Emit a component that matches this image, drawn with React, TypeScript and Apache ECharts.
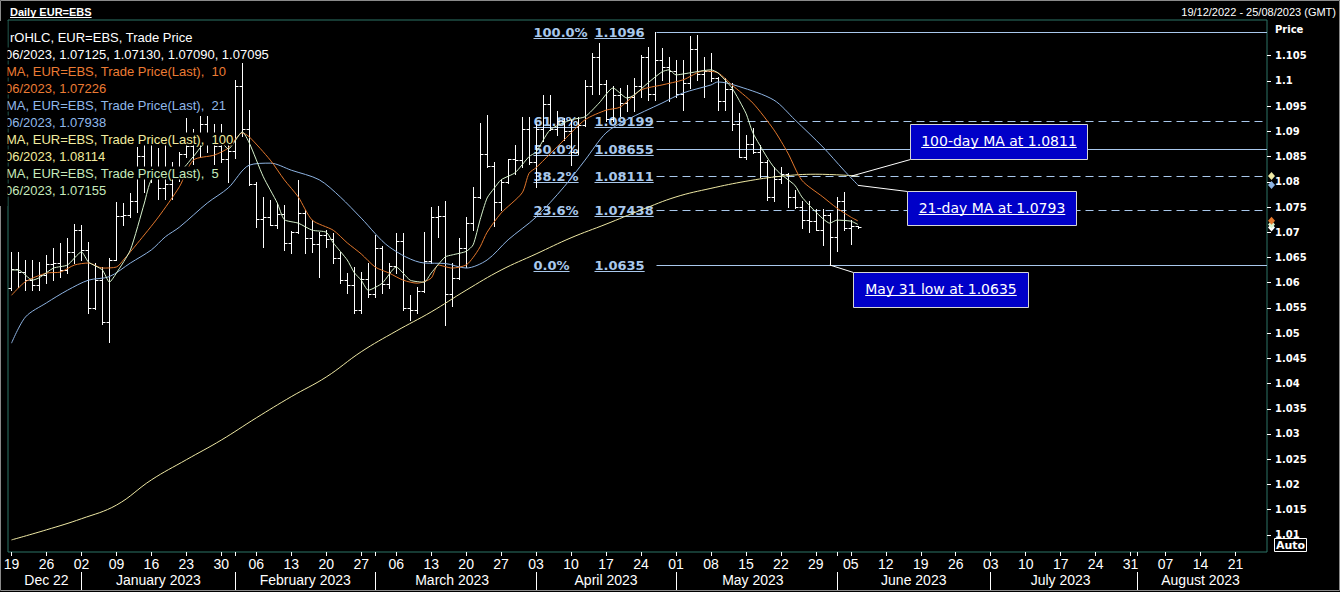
import { useEffect, useRef } from "react";
import * as echarts from "echarts";

// weekdays on the axis: 19/12/2022 .. 25/08/2023
const firstDayUtc = Date.UTC(2022, 11, 19);
const dayCount = 180;

const monthNames = ["Dec 22", "January 2023", "February 2023", "March 2023", "April 2023", "May 2023", "June 2023", "July 2023", "August 2023"];

// daily bars 19/12/2022 .. 06/06/2023
const opens = [
  1.0590, 1.0628, 1.0622, 1.0605, 1.0595, 1.0615, 1.0637, 1.0640, 1.0625, 1.0660,
  1.0705, 1.0665, 1.0550, 1.0605, 1.0522, 1.0645, 1.0733, 1.0735, 1.0762, 1.0851,
  1.0830, 1.0822, 1.0788, 1.0795, 1.0830, 1.0855, 1.0870, 1.0885, 1.0915, 1.0890,
  1.0870, 1.0845, 1.0862, 1.0990, 1.0905, 1.0795, 1.0727, 1.0731, 1.0715, 1.0737,
  1.0678, 1.0700, 1.0739, 1.0688, 1.0677, 1.0694, 1.0686, 1.0648, 1.0605, 1.0596,
  1.0545, 1.0608, 1.0578, 1.0668, 1.0597, 1.0634, 1.0682, 1.0549, 1.0545, 1.0583,
  1.0643, 1.0731, 1.0733, 1.0577, 1.0609, 1.0669, 1.0718, 1.0770, 1.0856, 1.0832,
  1.0760, 1.0800, 1.0845, 1.0843, 1.0905, 1.0840, 1.0905, 1.0955, 1.0905, 1.0920,
  1.0900, 1.0860, 1.0912, 1.0990, 1.1047, 1.0993, 1.0925, 1.0972, 1.0957, 1.0968,
  1.0990, 1.1048, 1.0975, 1.1041, 1.1027, 1.1020, 1.0975, 1.0995, 1.1063, 1.1013,
  1.1019, 1.1005, 1.0960, 1.0983, 1.0915, 1.0850, 1.0875, 1.0860, 1.0840, 1.0770,
  1.0805, 1.0815, 1.0770, 1.0750, 1.0725, 1.0722, 1.0705, 1.0735, 1.0690, 1.0762,
  1.0708, 1.07125,
];
const highs = [
  1.0660, 1.0661, 1.0645, 1.0645, 1.0641, 1.0655, 1.0668, 1.0678, 1.0688, 1.0716,
  1.0714, 1.0681, 1.0640, 1.0632, 1.0649, 1.0760, 1.0757, 1.0777, 1.0868, 1.0874,
  1.0873, 1.0867, 1.0887, 1.0840, 1.0860, 1.0927, 1.0905, 1.0930, 1.0930, 1.0914,
  1.0915, 1.0880, 1.1002, 1.1035, 1.0942, 1.0800, 1.0770, 1.0764, 1.0758, 1.0754,
  1.0702, 1.0804, 1.0744, 1.0724, 1.0700, 1.0704, 1.0698, 1.0661, 1.0620, 1.0632,
  1.0622, 1.0640, 1.0695, 1.0672, 1.0639, 1.0698, 1.0698, 1.0576, 1.0592, 1.0701,
  1.0751, 1.0752, 1.0761, 1.0639, 1.0688, 1.0731, 1.0790, 1.0916, 1.0932, 1.0839,
  1.0803, 1.0846, 1.0872, 1.0929, 1.0929, 1.0915, 1.0972, 1.0973, 1.0940, 1.0926,
  1.0923, 1.0929, 1.1002, 1.1055, 1.1075, 1.1002, 1.0989, 1.0986, 1.0992, 1.1005,
  1.1052, 1.1068, 1.1096, 1.1065, 1.1048, 1.1042, 1.1042, 1.1090, 1.1092, 1.1048,
  1.1055, 1.1008, 1.1005, 1.0996, 1.0936, 1.0893, 1.0906, 1.0873, 1.0843, 1.0830,
  1.0830, 1.0818, 1.0784, 1.0761, 1.0761, 1.0747, 1.0747, 1.0738, 1.0770, 1.0780,
  1.0724, 1.07130,
];
const lows = [
  1.0585, 1.0592, 1.0585, 1.0585, 1.0585, 1.0599, 1.0605, 1.0612, 1.0619, 1.0639,
  1.0645, 1.0539, 1.0548, 1.0519, 1.0483, 1.0645, 1.0714, 1.0731, 1.0740, 1.0780,
  1.0800, 1.0765, 1.0765, 1.0765, 1.0802, 1.0850, 1.0835, 1.0850, 1.0860, 1.0835,
  1.0840, 1.0800, 1.0848, 1.0890, 1.0794, 1.0711, 1.0671, 1.0714, 1.0708, 1.0665,
  1.0658, 1.0698, 1.0658, 1.0660, 1.0612, 1.0670, 1.0639, 1.0599, 1.0579, 1.0540,
  1.0540, 1.0572, 1.0572, 1.0579, 1.0590, 1.0620, 1.0546, 1.0526, 1.0540, 1.0582,
  1.0640, 1.0690, 1.0516, 1.0553, 1.0608, 1.0632, 1.0704, 1.0768, 1.0830, 1.0713,
  1.0744, 1.0798, 1.0816, 1.0830, 1.0836, 1.0790, 1.0880, 1.0903, 1.0893, 1.0883,
  1.0833, 1.0855, 1.0910, 1.0975, 1.0975, 1.0920, 1.0920, 1.0930, 1.0940, 1.0940,
  1.0969, 1.0963, 1.0963, 1.1002, 1.0960, 1.0969, 1.0943, 1.0985, 1.1002, 1.0969,
  1.1000, 1.0943, 1.0943, 1.0903, 1.0850, 1.0846, 1.0857, 1.0810, 1.0764, 1.0761,
  1.0797, 1.0751, 1.0748, 1.0708, 1.0701, 1.0705, 1.0675, 1.0635, 1.0662, 1.0705,
  1.0676, 1.07090,
];
const closes = [
  1.0628, 1.0622, 1.0605, 1.0595, 1.0615, 1.0637, 1.0640, 1.0625, 1.0660, 1.0705,
  1.0665, 1.0550, 1.0605, 1.0522, 1.0645, 1.0733, 1.0735, 1.0762, 1.0851, 1.0830,
  1.0822, 1.0788, 1.0795, 1.0830, 1.0855, 1.0870, 1.0885, 1.0915, 1.0890, 1.0870,
  1.0845, 1.0862, 1.0990, 1.0905, 1.0795, 1.0727, 1.0731, 1.0715, 1.0737, 1.0678,
  1.0700, 1.0739, 1.0688, 1.0677, 1.0694, 1.0686, 1.0648, 1.0605, 1.0596, 1.0545,
  1.0608, 1.0578, 1.0668, 1.0597, 1.0634, 1.0682, 1.0549, 1.0545, 1.0583, 1.0643,
  1.0731, 1.0733, 1.0577, 1.0609, 1.0669, 1.0718, 1.0770, 1.0856, 1.0832, 1.0760,
  1.0800, 1.0845, 1.0843, 1.0905, 1.0840, 1.0905, 1.0955, 1.0905, 1.0920, 1.0900,
  1.0860, 1.0912, 1.0990, 1.1047, 1.0993, 1.0925, 1.0972, 1.0957, 1.0968, 1.0990,
  1.1048, 1.0975, 1.1041, 1.1027, 1.1020, 1.0975, 1.0995, 1.1063, 1.1013, 1.1019,
  1.1005, 1.0960, 1.0983, 1.0915, 1.0850, 1.0875, 1.0860, 1.0840, 1.0770, 1.0805,
  1.0815, 1.0770, 1.0750, 1.0725, 1.0722, 1.0705, 1.0735, 1.0690, 1.0762, 1.0708,
  1.0712, 1.07095,
];

// moving averages: [day index, value]
const ma5Points = [
  [0, 1.0625], [1, 1.0625], [3, 1.0605], [4, 1.061], [6, 1.0629], [8, 1.0635], [10, 1.0661], [11, 1.0641],
  [13, 1.0625], [14, 1.0601], [15, 1.0619], [17, 1.0665], [19, 1.0758], [20, 1.0804], [22, 1.0818], [24, 1.082],
  [26, 1.085], [28, 1.088], [30, 1.0878], [31, 1.0865], [33, 1.0899], [34, 1.0877], [36, 1.081], [38, 1.0758],
  [39, 1.0725], [41, 1.0718], [43, 1.0704], [45, 1.07], [46, 1.0679], [48, 1.0645], [49, 1.062], [50, 1.0605],
  [51, 1.0585], [53, 1.0599], [55, 1.0631], [57, 1.0605], [59, 1.0601], [60, 1.0619], [62, 1.0651], [63, 1.0655],
  [65, 1.0662], [66, 1.0675], [67, 1.0725], [68, 1.0768], [69, 1.0787], [70, 1.0804], [72, 1.0818], [74, 1.085],
  [75, 1.0859], [77, 1.0903], [80, 1.0923], [82, 1.0929], [84, 1.0956], [86, 1.0986], [88, 1.0966], [89, 1.0972],
  [91, 1.0996], [93, 1.1018], [94, 1.1022], [95, 1.1012], [97, 1.1016], [100, 1.1022], [101, 1.1016], [103, 1.0986],
  [105, 1.0936], [106, 1.0897], [108, 1.0849], [109, 1.0829], [110, 1.0815], [112, 1.0793], [113, 1.077], [115, 1.074],
  [117, 1.0718], [118, 1.0724], [120, 1.0722], [121, 1.07155],
];
const ma10Points = [
  [0, 1.0575], [2, 1.0602], [5, 1.0619], [7, 1.0621], [9, 1.0635], [11, 1.0639], [13, 1.0629], [15, 1.0631],
  [16, 1.0645], [18, 1.0678], [21, 1.073], [24, 1.079], [26, 1.0843], [29, 1.0853], [31, 1.0867], [33, 1.0897],
  [34, 1.0889], [37, 1.0843], [39, 1.0804], [41, 1.077], [43, 1.0724], [46, 1.0704], [48, 1.0679], [50, 1.0657],
  [52, 1.0631], [54, 1.0619], [56, 1.0605], [58, 1.0599], [60, 1.0609], [61, 1.0635], [63, 1.0629], [65, 1.0635],
  [66, 1.065], [67, 1.0671], [68, 1.07], [70, 1.0738], [73, 1.0778], [74, 1.0817], [75, 1.0828], [79, 1.0883],
  [82, 1.0923], [85, 1.0942], [87, 1.0948], [90, 1.0982], [93, 1.0992], [96, 1.1002], [99, 1.102], [101, 1.1016],
  [103, 1.0992], [106, 1.0956], [109, 1.0903], [111, 1.0857], [113, 1.0803], [116, 1.077], [118, 1.0748], [120, 1.073],
  [121, 1.07226],
];
const ma21Points = [
  [0, 1.048], [2, 1.0532], [5, 1.056], [8, 1.0585], [11, 1.0605], [14, 1.0612], [17, 1.0639], [20, 1.0665],
  [22, 1.0691], [24, 1.071], [28, 1.0758], [31, 1.0788], [34, 1.0833], [37, 1.0837], [40, 1.0823], [44, 1.0804],
  [47, 1.077], [50, 1.0728], [54, 1.0671], [59, 1.0639], [62, 1.0638], [65, 1.0629], [68, 1.0645], [71, 1.0685],
  [75, 1.073], [79, 1.079], [82, 1.0843], [85, 1.0897], [88, 1.0923], [93, 1.0956], [96, 1.0976], [100, 1.0992],
  [101, 1.0998], [104, 1.0989], [109, 1.0962], [112, 1.0923], [116, 1.0869], [119, 1.0823], [121, 1.07938],
];
const ma100Points = [
  [0, 1.009], [5, 1.011], [10, 1.0132], [15, 1.0159], [20, 1.0209], [25, 1.0249], [30, 1.0288], [35, 1.0332],
  [40, 1.0374], [45, 1.0413], [50, 1.0463], [55, 1.0504], [60, 1.0542], [65, 1.0585], [70, 1.0625], [75, 1.0657],
  [80, 1.0689], [85, 1.0716], [90, 1.0744], [95, 1.077], [100, 1.0787], [105, 1.0801], [110, 1.0811], [115, 1.0815],
  [121, 1.08114],
];

// price axis
const priceTicks = [
  1.01, 1.015, 1.02, 1.025, 1.03, 1.035, 1.04, 1.045, 1.05, 1.055,
  1.06, 1.065, 1.07, 1.075, 1.08, 1.085, 1.09, 1.095, 1.1, 1.105,
];

// fibonacci retracement from the 26/04 high
const fibStartDay = 92;
const fibLevels = [1.1096, 1.09199, 1.08655, 1.08111, 1.07438, 1.0635];
const fibPercents = ["100.0%", "61.8%", "50.0%", "38.2%", "23.6%", "0.0%"];
const fibValueTexts = ["1.1096", "1.09199", "1.08655", "1.08111", "1.07438", "1.0635"];
const fibDashed = [false, true, false, true, true, false];

const legendLines = [
  "rOHLC, EUR=EBS, Trade Price",
  "06/2023, 1.07125, 1.07130, 1.07090, 1.07095",
  "MA, EUR=EBS, Trade Price(Last),  10",
  "06/2023, 1.07226",
  "MA, EUR=EBS, Trade Price(Last),  21",
  "06/2023, 1.07938",
  "MA, EUR=EBS, Trade Price(Last),  100",
  "06/2023, 1.08114",
  "MA, EUR=EBS, Trade Price(Last),  5",
  "06/2023, 1.07155",
];

const C_MA5 = "#d6f2cc";
const C_MA10 = "#e2772c";
const C_MA21 = "#8db3e2";
const C_MA100 = "#efe9a4";
const C_FIB = "#a9c8ec";
const C_FRAME = "#2d7466";
const legendColors = ["#ffffff", "#ffffff", "#ec7c34", "#ec7c34", "#8fb8ea", "#8fb8ea", "#f2ec9e", "#f2ec9e", "#c6eabc", "#c6eabc"];

const SANS = "'Liberation Sans', Arial, sans-serif";
const DEJAVU = "'DejaVu Sans', Verdana, sans-serif";
const NARROW = "'Liberation Sans Narrow', 'Liberation Sans', Arial, sans-serif";

function buildDays() {
  const out: string[] = [];
  const d = new Date(firstDayUtc);
  while (out.length < dayCount) {
    const wd = d.getUTCDay();
    if (wd !== 0 && wd !== 6) out.push(d.toISOString().slice(0, 10));
    d.setUTCDate(d.getUTCDate() + 1);
  }
  return out;
}

const days = buildDays();
const isMonday = days.map((d) => new Date(d + "T00:00:00Z").getUTCDay() === 1);
const monthStarts: number[] = [0];
days.forEach((d, i) => {
  if (i > 0 && d.slice(5, 7) !== days[i - 1].slice(5, 7)) monthStarts.push(i);
});
const monthLabelAt: Record<number, string> = {};
monthStarts.forEach((s, k) => {
  const e = (k + 1 < monthStarts.length ? monthStarts[k + 1] : days.length) - 1;
  monthLabelAt[Math.ceil((s + e) / 2)] = monthNames[k];
});
const isMonthBreak = (i: number) => i > 0 && monthStarts.includes(i);

let measureCtx: CanvasRenderingContext2D | null = null;
function textWidth(s: string, font: string) {
  if (!measureCtx) measureCtx = document.createElement("canvas").getContext("2d");
  measureCtx!.font = font;
  return measureCtx!.measureText(s).width;
}

function underlinedText(text: string, x: number, y: number, color: string, size: number, weight: string, family: string, z: number, align = "left") {
  const w = textWidth(text, `${weight} ${size}px ${family}`);
  const left = align === "center" ? x - w / 2 : x;
  const uy = Math.round(y + size * 0.45) + 0.5;
  return [
    { type: "text", x, y, z, style: { text, fill: color, fontSize: size, fontWeight: weight, fontFamily: family, align, verticalAlign: "middle" } },
    { type: "line", z, shape: { x1: left, y1: uy, x2: left + w, y2: uy }, style: { stroke: color, lineWidth: 1 } },
  ];
}

function buildOverlay(chart: echarts.ECharts) {
  const px = (i: number, v: number) => chart.convertToPixel({ xAxisIndex: 0, yAxisIndex: 0 }, [i, v]) as number[];
  const crisp = (v: number) => Math.round(v) + 0.5;
  const els: any[] = [];

  // title bar
  els.push(...underlinedText("Daily EUR=EBS", 10, 12, "#ffffff", 11, "bold", SANS, 20));
  els.push({ type: "text", x: 1336, y: 12, z: 20, style: { text: "19/12/2022 - 25/08/2023 (GMT)", fill: "#ffffff", fontSize: 11, fontFamily: SANS, align: "right", verticalAlign: "middle" } });
  els.push({ type: "rect", z: 30, shape: { x: 0.5, y: 0.5, width: 1339, height: 590 }, style: { fill: "none", stroke: "#8a8a8a", lineWidth: 1 } });

  // price axis title and auto-scale button
  els.push({ type: "text", x: 1275, y: 29, z: 20, style: { text: "Price", fill: "#ffffff", fontSize: 10, fontWeight: "bold", fontFamily: DEJAVU, verticalAlign: "middle" } });
  els.push({ type: "rect", z: 20, shape: { x: 1274.5, y: 538.5, width: 32, height: 13 }, style: { fill: "#000", stroke: "#ffffff", lineWidth: 1 } });
  els.push({ type: "text", x: 1290.5, y: 545, z: 21, style: { text: "Auto", fill: "#ffffff", fontSize: 11, fontWeight: "bold", fontFamily: DEJAVU, align: "center", verticalAlign: "middle" } });

  // fibonacci levels
  fibLevels.forEach((v, k) => {
    const p = px(fibStartDay, v);
    const x1 = Math.round(p[0]) + 1.5;
    const y = crisp(p[1]);
    els.push({ type: "line", z: 1, shape: { x1, y1: y, x2: 1267, y2: y }, style: { stroke: C_FIB, lineWidth: 1, lineDash: fibDashed[k] ? [8, 5] : null } });
    els.push(...underlinedText(fibPercents[k], x1 - 123, y, C_FIB, 13, "bold", DEJAVU, 1));
    els.push(...underlinedText(fibValueTexts[k], x1 - 62, y, C_FIB, 13, "bold", DEJAVU, 1));
  });

  // call-out boxes
  const boxes = [
    { text: "100-day MA at 1.0811", x: 910.5, y: 124.5, w: 177, h: 35, from: px(120, 1.0811), to: [910.5, 159.5] },
    { text: "21-day MA at 1.0793", x: 907.5, y: 191.5, w: 169, h: 34, from: px(121, 1.0793), to: [907.5, 191.5] },
    { text: "May 31 low at 1.0635", x: 853.5, y: 272.5, w: 175, h: 35, from: px(117, 1.0635), to: [853.5, 272.5] },
  ];
  boxes.forEach((b) => {
    els.push({ type: "line", z: 12, shape: { x1: b.from[0], y1: b.from[1], x2: b.to[0], y2: b.to[1] }, style: { stroke: "#ffffff", lineWidth: 1 } });
    els.push({ type: "rect", z: 12, shape: { x: b.x, y: b.y, width: b.w, height: b.h }, style: { fill: "#0000c8", stroke: "#d6d6d6", lineWidth: 1 } });
    els.push(...underlinedText(b.text, b.x + b.w / 2, b.y + b.h / 2 - 1, "#ffffff", 14, "normal", DEJAVU, 13, "center"));
  });

  // last-value diamonds on the price axis
  const lastValues = [
    { v: closes[closes.length - 1], c: "#ffffff" },
    { v: ma5Points[ma5Points.length - 1][1], c: C_MA5 },
    { v: ma10Points[ma10Points.length - 1][1], c: C_MA10 },
    { v: ma21Points[ma21Points.length - 1][1], c: C_MA21 },
    { v: ma100Points[ma100Points.length - 1][1], c: C_MA100 },
  ];
  lastValues.forEach((m) => {
    const y = px(0, m.v)[1];
    const x = 1271.5;
    els.push({ type: "polygon", z: 15, shape: { points: [[x, y - 4], [x + 3.5, y], [x, y + 4], [x - 3.5, y]] }, style: { fill: m.c } });
  });

  // study legend, clipped at the left edge of the plot
  legendLines.forEach((t, k) => {
    const x = k === 0 ? 10 : k % 2 === 1 ? 5 : 6;
    els.push({ type: "text", x, y: 37 + k * 17, z: 40, style: { text: t, fill: legendColors[k], fontSize: 13, fontFamily: SANS, verticalAlign: "middle", backgroundColor: "#000" } });
  });
  els.push({ type: "rect", z: 41, shape: { x: 0, y: 21, width: 7.5, height: 185 }, style: { fill: "#000" } });

  return els;
}

function maSeries(name: string, points: number[][], color: string, smooth: number | boolean) {
  return {
    name,
    type: "line",
    data: points,
    showSymbol: false,
    smooth,
    z: 4,
    lineStyle: { color, width: 1 },
  };
}

export default function App() {
  const chartRef = useRef<HTMLDivElement>(null);

  useEffect(() => {
    if (!chartRef.current) return;
    const chart = echarts.init(chartRef.current, undefined, { renderer: "svg" });

    const ohlc = opens.map((o, i) => [i, o, highs[i], lows[i], closes[i]]);

    chart.setOption({
      animation: false,
      backgroundColor: "#000000",
      grid: { left: 8, right: 73, top: 20, bottom: 40, show: true, borderColor: C_FRAME, borderWidth: 1, backgroundColor: "transparent" },
      xAxis: [
        {
          type: "category",
          data: days,
          boundaryGap: true,
          axisLine: { show: false },
          splitLine: { show: false },
          axisTick: {
            show: true,
            alignWithLabel: true,
            interval: (i: number) => isMonday[i] || isMonthBreak(i),
            length: 4,
            lineStyle: { color: "#ffffff" },
          },
          axisLabel: {
            interval: (i: number) => isMonday[i],
            formatter: (v: string) => v.slice(8, 10),
            color: "#ffffff",
            fontSize: 14,
            fontFamily: NARROW,
            margin: 5,
          },
        },
        {
          type: "category",
          data: days,
          position: "bottom",
          offset: 20,
          boundaryGap: true,
          axisLine: { show: false },
          splitLine: { show: false },
          axisTick: {
            show: true,
            alignWithLabel: true,
            interval: (i: number) => isMonthBreak(i),
            length: 18,
            lineStyle: { color: "#ffffff" },
          },
          axisLabel: {
            interval: (i: number) => monthLabelAt[i] !== undefined,
            formatter: (_v: string, i: number) => monthLabelAt[i] ?? "",
            color: "#ffffff",
            fontSize: 14,
            fontFamily: NARROW,
            margin: 1,
          },
        },
      ],
      yAxis: {
        type: "value",
        position: "right",
        min: 1.006604,
        max: 1.112078,
        axisLine: { show: false },
        splitLine: { show: false },
        axisTick: { show: true, customValues: priceTicks, length: 4, lineStyle: { color: "#ffffff" } },
        axisLabel: {
          customValues: priceTicks,
          formatter: (v: number) => String(Number(v.toFixed(3))),
          color: "#ffffff",
          fontSize: 10,
          fontWeight: "bold",
          fontFamily: DEJAVU,
          margin: 8,
        },
      },
      series: [
        {
          name: "OHLC",
          type: "custom",
          z: 3,
          data: ohlc,
          encode: { x: 0, y: [1, 2, 3, 4] },
          renderItem: (_params: any, api: any) => {
            const i = api.value(0);
            const h = api.coord([i, api.value(2)]);
            const l = api.coord([i, api.value(3)]);
            const o = api.coord([i, api.value(1)]);
            const c = api.coord([i, api.value(4)]);
            const x = Math.round(h[0]) + 0.5;
            const oy = Math.round(o[1]) + 0.5;
            const cy = Math.round(c[1]) + 0.5;
            const st = { stroke: "#ffffff", lineWidth: 1 };
            return {
              type: "group",
              children: [
                { type: "line", shape: { x1: x, y1: Math.round(h[1]), x2: x, y2: Math.round(l[1]) + 1 }, style: st },
                { type: "line", shape: { x1: x - 3, y1: oy, x2: x, y2: oy }, style: st },
                { type: "line", shape: { x1: x, y1: cy, x2: x + 3, y2: cy }, style: st },
              ],
            };
          },
        },
        maSeries("MA 100", ma100Points, C_MA100, 0.4),
        maSeries("MA 21", ma21Points, C_MA21, 0.3),
        maSeries("MA 10", ma10Points, C_MA10, 0.25),
        maSeries("MA 5", ma5Points, C_MA5, 0.2),
      ],
    });

    chart.setOption({ graphic: buildOverlay(chart) });

    return () => {
      chart.dispose();
    };
  }, []);

  return (
    <div
      ref={chartRef}
      style={{ position: "fixed", left: 0, top: 0, width: 1340, height: 592, background: "#000" }}
    />
  );
}
